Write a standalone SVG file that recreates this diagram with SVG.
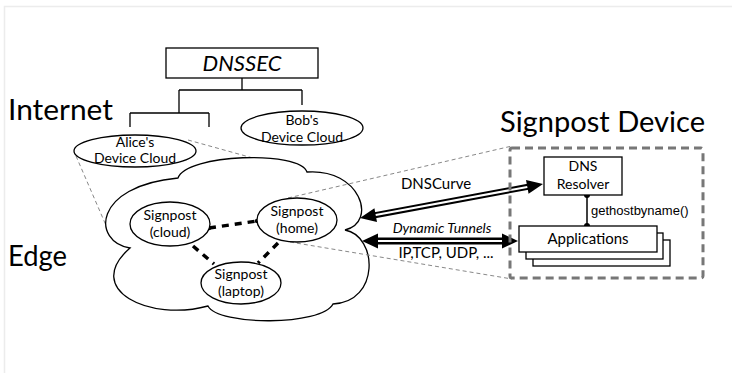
<svg xmlns="http://www.w3.org/2000/svg" width="732" height="373" viewBox="0 0 732 373">
<style>
.t{font-family:Lato,"Open Sans","Liberation Sans",sans-serif;fill:#000}
.big{font-size:28px}
.mid{font-size:14px}
.sh{fill:#fff;stroke:#000;stroke-width:1.3}
.ln{fill:none;stroke:#000;stroke-width:1.3}
.zoom{fill:none;stroke:#888;stroke-width:1;stroke-dasharray:4 3}
.peer{fill:none;stroke:#000;stroke-width:3.5;stroke-dasharray:7 6}
</style>
<rect x="0" y="0" width="732" height="373" fill="#fff"/>
<path d="M4.5,373 V6.5 H732" fill="none" stroke="#ececec" stroke-width="1.5"/>

<text class="t big" x="8" y="120" textLength="105" lengthAdjust="spacingAndGlyphs">Internet</text>
<text class="t big" x="8" y="266" textLength="59" lengthAdjust="spacingAndGlyphs">Edge</text>
<text class="t big" x="500" y="132" textLength="205" lengthAdjust="spacingAndGlyphs">Signpost Device</text>

<g id="connectors">
  <path class="ln" d="M242,78 V90 M179,90 H302 M302,90 V105 M179,90 V113 M130,113 H209 M130,113 V127 M209,113 V127"/>
  <line class="zoom" x1="76" y1="156" x2="108" y2="230"/>
  <line class="zoom" x1="188" y1="140" x2="325" y2="178"/>
</g>

<g id="edge-cloud">
  <path class="sh" d="M130,248 C92,242 92,186 178,178 C186,154 300,150 307,172 C360,168 378,222 345,230 C378,236 380,302 333,304 C322,326 218,326 208,306 C150,322 82,290 130,248 Z"/>
</g>

<g id="connectors2">
  <line class="zoom" x1="288" y1="198" x2="512" y2="146"/>
  <line class="zoom" x1="290" y1="242" x2="512" y2="279"/>
  <line class="peer" x1="209" y1="228" x2="257" y2="221"/>
  <line class="peer" x1="193" y1="246" x2="214" y2="264"/>
  <line class="peer" x1="278" y1="243" x2="258" y2="263"/>
  <circle cx="209" cy="228" r="2.2" fill="#000"/>
  <circle cx="257" cy="221" r="2.2" fill="#000"/>
  <line x1="375" y1="215.2" x2="528" y2="186.8" stroke="#000" stroke-width="6"/>
  <line x1="373" y1="215.6" x2="530" y2="186.4" stroke="#fff" stroke-width="2"/>
  <polygon points="360,218 377,222 374.4,208.2" fill="#000"/>
  <polygon points="543,184 528.6,193.8 526,180" fill="#000"/>
  <line x1="376" y1="241" x2="504" y2="241" stroke="#000" stroke-width="7"/>
  <line x1="374" y1="241" x2="506" y2="241" stroke="#fff" stroke-width="2"/>
  <polygon points="362,241 378,233.5 378,248.5" fill="#000"/>
  <polygon points="518,241 502,233.5 502,248.5" fill="#000"/>
  <line x1="587" y1="195" x2="587" y2="226" stroke="#000" stroke-width="1.5"/>
  <circle cx="587" cy="195" r="3" fill="#000"/>
  <circle cx="587" cy="226" r="3" fill="#000"/>
</g>

<g id="dnssec">
  <rect class="sh" x="166" y="48" width="152" height="30"/>
  <text class="t" x="242" y="71" font-size="22" font-style="italic" text-anchor="middle">DNSSEC</text>
</g>
<g id="alice">
  <ellipse class="sh" cx="135" cy="151" rx="61" ry="16"/>
  <text class="t mid" x="135" y="147" text-anchor="middle">Alice's</text>
  <text class="t mid" x="135" y="163" text-anchor="middle">Device Cloud</text>
</g>
<g id="bob">
  <ellipse class="sh" cx="302" cy="128" rx="61" ry="17"/>
  <text class="t mid" x="302" y="125" text-anchor="middle">Bob's</text>
  <text class="t mid" x="302" y="142" text-anchor="middle">Device Cloud</text>
</g>
<g id="sp-cloud">
  <ellipse class="sh" cx="170" cy="224" rx="40" ry="22"/>
  <text class="t mid" x="170" y="220" text-anchor="middle">Signpost</text>
  <text class="t mid" x="170" y="237" text-anchor="middle">(cloud)</text>
</g>
<g id="sp-home">
  <ellipse class="sh" cx="297" cy="220" rx="40" ry="22"/>
  <text class="t mid" x="297" y="216" text-anchor="middle">Signpost</text>
  <text class="t mid" x="297" y="233" text-anchor="middle">(home)</text>
</g>
<g id="sp-laptop">
  <ellipse class="sh" cx="241" cy="283" rx="40" ry="21"/>
  <text class="t mid" x="241" y="279" text-anchor="middle">Signpost</text>
  <text class="t mid" x="241" y="296" text-anchor="middle">(laptop)</text>
</g>

<g id="signpost-device">
  <rect x="510" y="148" width="193" height="130" rx="2" fill="none" stroke="#777" stroke-width="3" stroke-dasharray="8 5"/>
</g>
<g id="dns-resolver">
  <rect class="sh" x="544" y="157" width="78" height="38"/>
  <text class="t mid" x="583" y="171" text-anchor="middle">DNS</text>
  <text class="t mid" x="583" y="189" text-anchor="middle">Resolver</text>
</g>
<g id="applications">
  <rect class="sh" x="533" y="240" width="137" height="26"/>
  <rect class="sh" x="526" y="233" width="137" height="26"/>
  <rect class="sh" x="519" y="226" width="138" height="26"/>
  <text class="t" x="588" y="244" font-size="15" text-anchor="middle">Applications</text>
</g>

<g id="labels">
  <text class="t" x="436" y="189" font-size="15" text-anchor="middle">DNSCurve</text>
  <text class="t" x="442" y="233" font-size="14" font-style="italic" text-anchor="middle">Dynamic Tunnels</text>
  <text class="t" x="446" y="258" font-size="15" text-anchor="middle">IP,TCP, UDP, ...</text>
  <text x="591" y="215" font-family="'Liberation Sans',Arial,sans-serif" font-size="13">gethostbyname()</text>
</g>
</svg>
